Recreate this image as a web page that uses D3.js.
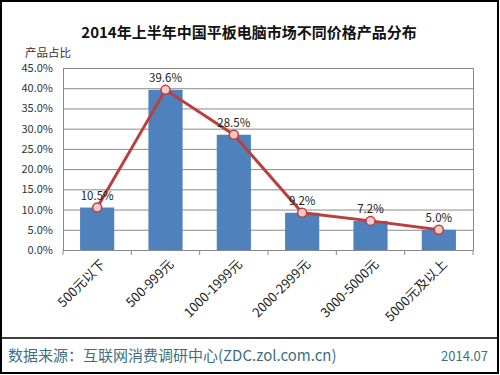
<!DOCTYPE html>
<html><head><meta charset="utf-8">
<script src="https://cdn.jsdelivr.net/npm/d3@7/dist/d3.min.js"></script>
<style>body{margin:0;background:#fff;}svg{display:block;}</style>
</head><body>
<svg id="c" width="500" height="375"></svg>
<script>
const categories = ["500元以下","500-999元","1000-1999元","2000-2999元","3000-5000元","5000元及以上"];
const values = [10.5, 39.6, 28.5, 9.2, 7.2, 5.0];
const yTicks = [0,5,10,15,20,25,30,35,40,45];
const title = "2014年上半年中国平板电脑市场不同价格产品分布";
const yTitle = "产品占比";
const source = "数据来源：互联网消费调研中心(ZDC.zol.com.cn)";
const dateText = "2014.07";

const svg = d3.select("#c");
const font = "'Noto Sans CJK SC', 'Noto Sans', sans-serif";
const m = {l:63, r:473, t:68, b:250};
const x = d3.scaleBand().domain(categories).range([m.l, m.r]).paddingInner(0.5).paddingOuter(0.25);
const y = d3.scaleLinear().domain([0,45]).range([m.b, m.t]);

// outer border
svg.append("rect").attr("x",1).attr("y",1).attr("width",497).attr("height",372).attr("fill","none").attr("stroke","#000").attr("stroke-width",2);
svg.append("line").attr("x1",1).attr("x2",498).attr("y1",338).attr("y2",338).attr("stroke","#000").attr("stroke-width",1.5);

svg.append("text").attr("x",249).attr("y",38).attr("text-anchor","middle").attr("font-family",font).attr("font-size",15).attr("font-weight","bold").attr("fill","#111").text(title);
svg.append("text").attr("x",25).attr("y",57).attr("font-family",font).attr("font-size",11.5).attr("fill","#333").text(yTitle);

// gridlines
svg.append("g").selectAll("line").data(yTicks).join("line")
  .attr("x1",m.l).attr("x2",m.r).attr("y1",d=>y(d)+0.5).attr("y2",d=>y(d)+0.5).attr("stroke","#8a8a8a").attr("stroke-width",1);
svg.append("line").attr("x1",m.r+0.5).attr("x2",m.r+0.5).attr("y1",m.t).attr("y2",m.b).attr("stroke","#8a8a8a");
svg.append("line").attr("x1",m.l+0.5).attr("x2",m.l+0.5).attr("y1",m.t).attr("y2",m.b).attr("stroke","#8a8a8a");

// y axis labels
const ya = svg.append("g").attr("transform",`translate(${m.l-10},0)`)
  .call(d3.axisLeft(y).tickValues(yTicks).tickSize(0).tickFormat(d=>d.toFixed(1)+"%"));
ya.select(".domain").remove();
ya.selectAll("text").attr("font-family",font).attr("font-size",11).attr("fill","#333").attr("x",0);

// bars
svg.append("g").selectAll("rect").data(values).join("rect")
  .attr("x",(d,i)=>x(categories[i])).attr("width",x.bandwidth())
  .attr("y",d=>y(d)).attr("height",d=>m.b-y(d)).attr("fill","#4f81bd");

// x axis
const xa = svg.append("g").attr("transform",`translate(0,${m.b})`)
  .call(d3.axisBottom(d3.scaleBand().domain(categories).range([m.l,m.r])).tickSize(0));
xa.select(".domain").attr("stroke","#8a8a8a");
const step = (m.r-m.l)/categories.length;
svg.append("g").selectAll("line").data(d3.range(categories.length+1)).join("line")
  .attr("x1",i=>m.l+i*step).attr("x2",i=>m.l+i*step).attr("y1",m.b).attr("y2",m.b+5).attr("stroke","#8a8a8a");
xa.selectAll("text").attr("font-family",font).attr("font-size",13).attr("fill","#222")
  .attr("text-anchor","end").attr("dy",0).attr("y",0)
  .attr("transform","translate(9,15) rotate(-45)");

// line
const cx = (d,i)=>x(categories[i])+x.bandwidth()/2;
svg.append("path").datum(values).attr("fill","none").attr("stroke","#b8413e").attr("stroke-width",3)
  .attr("d",d3.line().x(cx).y(d=>y(d)));
svg.append("g").selectAll("circle").data(values).join("circle")
  .attr("cx",cx).attr("cy",d=>y(d)).attr("r",4.5).attr("fill","#f6caca").attr("stroke","#b8413e").attr("stroke-width",1.5);
svg.append("g").selectAll("text").data(values).join("text")
  .attr("x",cx).attr("y",d=>y(d)-8).attr("text-anchor","middle").attr("font-family",font).attr("font-size",11.5).attr("fill","#222")
  .text(d=>d.toFixed(1)+"%");

// footer
svg.append("text").attr("x",8).attr("y",361).attr("font-family",font).attr("font-size",15).attr("fill","#3d6f7f").text(source);
svg.append("text").attr("x",488).attr("y",361).attr("text-anchor","end").attr("font-family",font).attr("font-size",13).attr("fill","#3d6f7f").text(dateText);
</script>
</body></html>
